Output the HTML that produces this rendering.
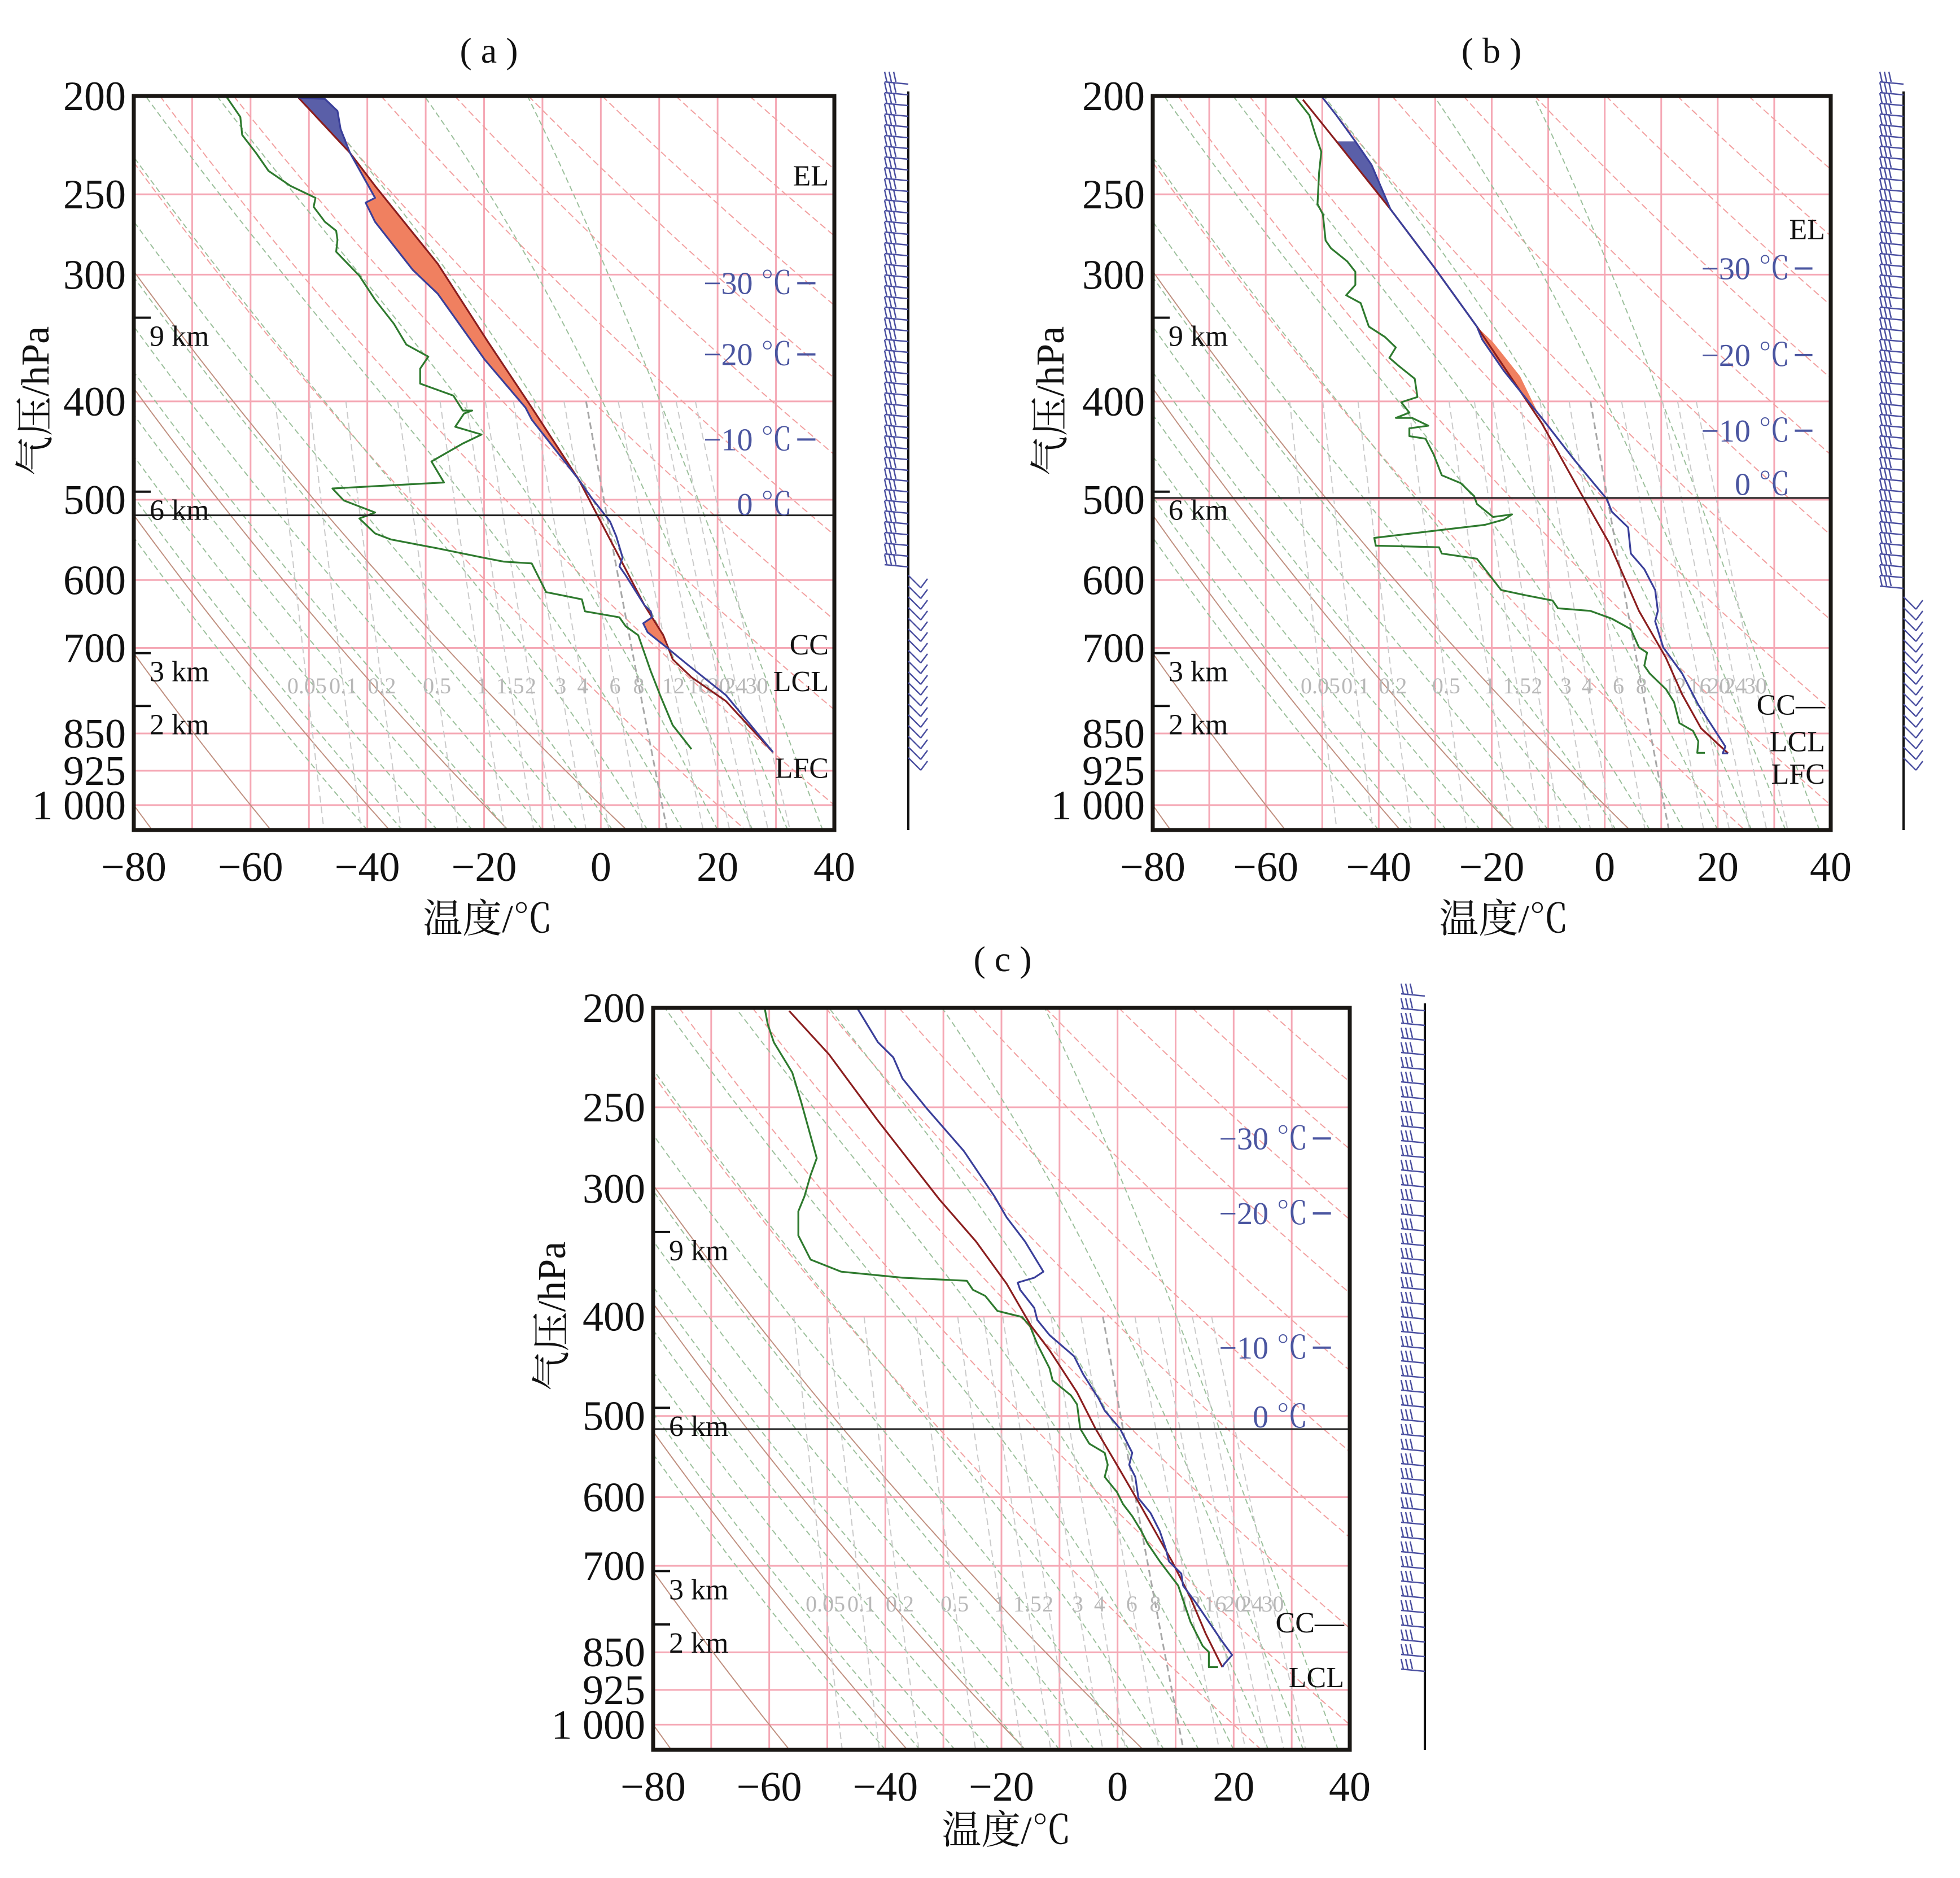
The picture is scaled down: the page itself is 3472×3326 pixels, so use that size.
<!DOCTYPE html>
<html><head><meta charset="utf-8"><style>
html,body{margin:0;padding:0;background:#fff;}
svg{display:block;}
text{font-family:"Liberation Serif","Noto Serif CJK SC",serif;}
</style></head><body>
<svg id="s" xmlns="http://www.w3.org/2000/svg" width="3472" height="3326" viewBox="0 0 3472 3326"></svg>
<script>
var S=document.getElementById('s');var NS='http://www.w3.org/2000/svg';
function el(n,a,t,par){var e=document.createElementNS(NS,n);for(var k in a)e.setAttribute(k,a[k]);if(t!=null)e.textContent=t;(par||S).appendChild(e);return e;}
var PB=1.666;
var panels=[
 {id:'a',x0:237,x1:1478,y0:170,y1:1470,staff:1609,title:[866,89],yl:[62,710],xl:[864,1627],blk:518,
  z:[215,1333,160,1385],
  green:[[362,160],[385,195],[388,225],[410,255],[430,285],[465,310],[505,330],[502,345],[520,370],[538,385],[540,400],[538,420],[575,460],[600,500],[630,540],[650,575],[685,595],[672,615],[672,640],[725,660],[740,685],[755,685],[742,690],[728,712],[770,725],[740,740],[690,770],[710,805],[532,815],[550,835],[600,855],[575,865],[600,890],[625,900],[700,915],[770,930],[805,937],[850,940],[862,965],[873,988],[930,1000],[935,1020],[990,1030],[1000,1045],[1020,1060],[1040,1120],[1055,1160],[1075,1210],[1105,1250]],
  red:[[478,163],[560,255],[600,310],[700,440],[780,570],[850,680],[925,800],[940,830],[965,880],[1000,950],[1030,1010],[1060,1060],[1075,1100],[1105,1130],[1160,1170],[1235,1255]],
  blue:[[478,163],[520,165],[540,185],[545,215],[560,255],[600,330],[585,338],[600,370],[660,450],[700,490],[775,600],[840,680],[850,700],[925,800],[945,830],[975,870],[985,895],[995,930],[990,945],[1000,960],[1030,1010],[1040,1020],[1042,1030],[1028,1040],[1035,1055],[1065,1080],[1100,1110],[1160,1160],[1235,1255]],
  fills:[['#5a5fa8',[[478,163],[520,165],[540,185],[545,215],[560,255],[478,163]]],
   ['#f08060',[[560,255],[600,310],[700,440],[780,570],[850,680],[925,800],[850,700],[840,680],[775,600],[700,490],[660,450],[600,370],[585,338],[600,330]]],
   ['#f08060',[[1030,1010],[1060,1060],[1065,1080],[1035,1055],[1028,1040],[1042,1030],[1040,1020]]]],
  txt:[['EL',0.108],['CC',0.747],['LCL',0.797],['LFC',0.915]],
  bl:[0.255,0.352,0.468,0.556],rightBarb:0.64},
 {id:'b',x0:2042,x1:3243,y0:170,y1:1470,staff:3372,title:[2642,89],yl:[1860,710],xl:[2664,1627],blk:498,
  z:[90,1345,73,1480],
  green:[[352,73],[380,110],[392,150],[402,180],[398,220],[395,280],[405,300],[410,350],[420,365],[450,390],[465,410],[465,435],[448,455],[475,470],[490,515],[520,535],[540,555],[528,575],[545,590],[575,615],[580,650],[550,660],[565,680],[540,690],[570,690],[600,705],[565,710],[565,725],[595,730],[610,760],[625,800],[660,815],[685,840],[690,855],[720,880],[755,875],[740,885],[705,895],[500,920],[503,935],[620,938],[625,950],[690,960],[720,1000],[735,1020],[780,1030],[830,1040],[840,1055],[900,1060],[940,1075],[975,1095],[990,1130],[1005,1140],[1000,1165],[1010,1180],[1020,1190],[1040,1210],[1055,1235],[1065,1275],[1090,1290],[1100,1310],[1098,1332],[1112,1332]],
  red:[[368,80],[430,160],[530,290],[610,400],[690,515],[810,700],[880,830],[935,930],[990,1060],[1040,1150],[1070,1220],[1105,1285],[1155,1333]],
  blue:[[402,73],[430,110],[465,160],[495,205],[530,290],[610,400],[690,515],[700,540],[740,600],[810,690],[870,770],[930,845],[940,870],[970,900],[975,950],[1000,980],[1020,1020],[1025,1060],[1020,1080],[1035,1130],[1070,1180],[1100,1240],[1125,1280],[1150,1320],[1145,1333],[1155,1333]],
  fills:[['#5a5fa8',[[430,160],[465,160],[495,205],[530,290]]],['#f08060',[[690,515],[720,545],[770,610],[810,695],[780,650],[740,600],[700,540]]]],
  txt:[['EL',0.181],['CC\u2014',0.829],['LCL',0.879],['LFC',0.923]],
  bl:[0.235,0.353,0.456,0.529],rightBarb:0.68},
 {id:'c',x0:1157,x1:2391,y0:1785,y1:3099,staff:2524,title:[1776,1698],yl:[977,2331],xl:[1783,3241],blk:515,
  z:[233,1370,123,1352],
  green:[[415,123],[420,150],[430,180],[460,230],[475,280],[500,372],[490,400],[480,435],[470,460],[470,500],[490,540],[540,560],[640,570],[745,575],[755,590],[775,600],[795,625],[835,635],[848,650],[860,680],[880,720],[885,740],[915,765],[925,780],[930,820],[945,845],[970,860],[975,880],[970,900],[990,925],[1000,945],[1015,965],[1030,990],[1040,1010],[1060,1040],[1075,1060],[1090,1080],[1100,1110],[1110,1140],[1130,1180],[1140,1190],[1140,1215],[1155,1215]],
  red:[[455,128],[520,200],[600,310],[700,440],[760,510],[810,580],[850,650],[880,690],[925,760],[955,820],[990,880],[1030,950],[1080,1040],[1110,1100],[1135,1160],[1162,1215]],
  blue:[[567,125],[600,180],[625,205],[640,240],[680,290],[740,360],[790,435],[810,470],[840,510],[870,560],[855,570],[828,578],[832,590],[855,620],[860,640],[880,665],[920,700],[935,730],[960,770],[970,790],[995,820],[1015,860],[1010,880],[1020,900],[1025,935],[1045,960],[1060,990],[1070,1020],[1075,1040],[1095,1060],[1098,1080],[1120,1110],[1140,1140],[1160,1170],[1178,1195],[1165,1210],[1162,1215]],
  fills:[],
  txt:[['CC\u2014',0.828],['LCL',0.902]],
  bl:[0.176,0.277,0.458,0.551],rightBarb:2}
];
function es(T){return 6.112*Math.exp(17.67*T/(T+243.5));}
panels.forEach(function(P){
 var W=P.x1-P.x0,H=P.y1-P.y0;
 function X(T){return P.x0+(T+80)/120*W;}
 function Y(p){return P.y0+Math.log(p/200)/PB*H;}
 function Z(pt){return [P.x0+(pt[0]-P.z[0])/(P.z[1]-P.z[0])*W,P.y0+(pt[1]-P.z[2])/(P.z[3]-P.z[2])*H];}
 var cid='clip'+P.id;
 var d=el('defs',{});var cp=el('clipPath',{id:cid},null,d);el('rect',{x:P.x0,y:P.y0,width:W,height:H},null,cp);
 var g=el('g',{'clip-path':'url(#'+cid+')'});
 var pb=200*Math.exp(PB);
 for(var T=-70;T<40;T+=10)el('line',{x1:X(T),y1:P.y0,x2:X(T),y2:P.y1,stroke:'#f5a8b5','stroke-width':3},null,g);
 [250,300,400,500,600,700,850,925,1000].forEach(function(p){el('line',{x1:P.x0,y1:Y(p),x2:P.x1,y2:Y(p),stroke:'#f5a8b5','stroke-width':3},null,g);});
 for(var th=-80;th<=200;th+=20){var pts=[];for(var p=200;p<=pb+5;p+=10){var t=(th+273.15)*Math.pow(p/1000,0.286)-273.15;pts.push(X(t).toFixed(1)+','+Y(p).toFixed(1));}
  el('polyline',{points:pts.join(' '),fill:'none',stroke:th<=0?'#c09080':'#f2a0a0','stroke-width':2,'stroke-dasharray':th<=0?'none':'12,6'},null,g);}
 for(var t0=-40;t0<=40;t0+=6){var Tk=t0+273.15,p=pb,pts=[X(t0).toFixed(1)+','+Y(p).toFixed(1)];
  while(p>200){var dp=-4;var Tc=Tk-273.15;var e=es(Tc);var rs=0.622*e/(p-e);var dT=(287*Tk+2.5e6*rs)/(p*(1004+2.5e6*2.5e6*rs*0.622/(287*Tk*Tk)));Tk+=dT*dp;p+=dp;pts.push(X(Tk-273.15).toFixed(1)+','+Y(p).toFixed(1));}
  el('polyline',{points:pts.join(' '),fill:'none',stroke:'#9cc09c','stroke-width':2,'stroke-dasharray':'10,6'},null,g);}
 var wl=[0.05,0.1,0.2,0.5,1,1.5,2,3,4,6,8,12,16,20,24,30];
 function Tw(w,p){var e=w*p/(622+w);var l=Math.log(e/6.112);return 243.5*l/(17.67-l);}
 wl.forEach(function(w){var pts=[];for(var p=400;p<=pb+5;p+=10)pts.push(X(Tw(w,p)).toFixed(1)+','+Y(p).toFixed(1));
  el('polyline',{points:pts.join(' '),fill:'none',stroke:w==8?'#a8a8a8':'#cacaca','stroke-width':w==8?3:2,'stroke-dasharray':'12,7'},null,g);
  el('text',{x:X(Tw(w,762)),y:Y(762)+14,'font-family':'Liberation Sans',"font-size":40,fill:'#b8b8b8','text-anchor':'middle'},String(w),g);});
 P.fills.forEach(function(f){el('polygon',{points:f[1].map(function(q){var z=Z(q);return z[0].toFixed(1)+','+z[1].toFixed(1);}).join(' '),fill:f[0],stroke:'none'},null,g);});
 function line(a,c){el('polyline',{points:a.map(function(q){var z=Z(q);return z[0].toFixed(1)+','+z[1].toFixed(1);}).join(' '),fill:'none',stroke:c,'stroke-width':3.2,'stroke-linejoin':'round'},null,g);}
 line(P.green,'#2e7a2e');line(P.red,'#8b1e1e');line(P.blue,'#3a3f9a');
 el('line',{x1:P.x0,y1:Y(P.blk),x2:P.x1,y2:Y(P.blk),stroke:'#222','stroke-width':3},null,g);
 el('rect',{x:P.x0,y:P.y0,width:W,height:H,fill:'none',stroke:'#1a1714','stroke-width':7});
 [200,250,300,400,500,600,700,850,925,1000].forEach(function(p){el('text',{x:P.x0-14,y:Y(p)+25,"font-size":74,'text-anchor':'end',fill:'#111'},p==1000?'1 000':String(p));});
 for(var T=-80;T<=40;T+=20)el('text',{x:X(T),y:P.y1+90,"font-size":74,'text-anchor':'middle',fill:'#111'},(T<0?'\u2212'+(-T):String(T)));
 el('text',{x:P.title[0],y:P.title[1]+22,"font-size":64,'text-anchor':'middle',fill:'#111'},'( '+P.id+' )');
 el('text',{x:P.xl[0],y:P.xl[1]+24,"font-size":70,'text-anchor':'middle',fill:'#111'},'温度/℃');
 el('text',{x:P.yl[0],y:P.yl[1],"font-size":70,'text-anchor':'middle',fill:'#111',transform:'rotate(-90 '+P.yl[0]+' '+P.yl[1]+')',dy:24},'气压/hPa');
 [['9 km',0.302],['6 km',0.539],['3 km',0.759],['2 km',0.831]].forEach(function(k){var y=P.y0+k[1]*H;el('line',{x1:P.x0,y1:y,x2:P.x0+30,y2:y,stroke:'#111','stroke-width':4});el('text',{x:P.x0+28,y:y+50,"font-size":52,fill:'#111'},k[0]);});
 P.txt.forEach(function(t){el('text',{x:P.x1-10,y:P.y0+t[1]*H+18,"font-size":52,'text-anchor':'end',fill:'#111'},t[0]);});
 var bt=['\u221230 \u2103','\u221220 \u2103','\u221210 \u2103','0 \u2103'];
 P.bl.forEach(function(f,i){var y=P.y0+f*H;el('text',{x:P.x0+0.94*W,y:y+19,"font-size":56,'text-anchor':'end',fill:'#4a55a0'},bt[i]);if(i<3)el('line',{x1:P.x0+0.947*W,y1:y,x2:P.x0+0.973*W,y2:y,stroke:'#4a55a0','stroke-width':4});});
 el('line',{x1:P.staff,y1:P.y0-8,x2:P.staff,y2:P.y1,stroke:'#111','stroke-width':4});
 var bg=el('g',{stroke:'#4a4fa0','stroke-width':2.5,fill:'none'});
 for(var y=P.y0-25;y<P.y1-120;y+=(P.id=='c'?26:19)){var f=(y-P.y0)/H;
  if(f>P.rightBarb){el('line',{x1:P.staff,y1:y,x2:P.staff+22,y2:y+22},null,bg);el('line',{x1:P.staff+22,y1:y+22,x2:P.staff+34,y2:y+6},null,bg);}
  else{var L=P.staff-42;el('line',{x1:L,y1:y,x2:P.staff,y2:y+4},null,bg);for(var j=0;j<3;j++)el('line',{x1:L+4+j*8,y1:y,x2:L+j*8,y2:y-18},null,bg);}}
});
</script>
</body></html>
